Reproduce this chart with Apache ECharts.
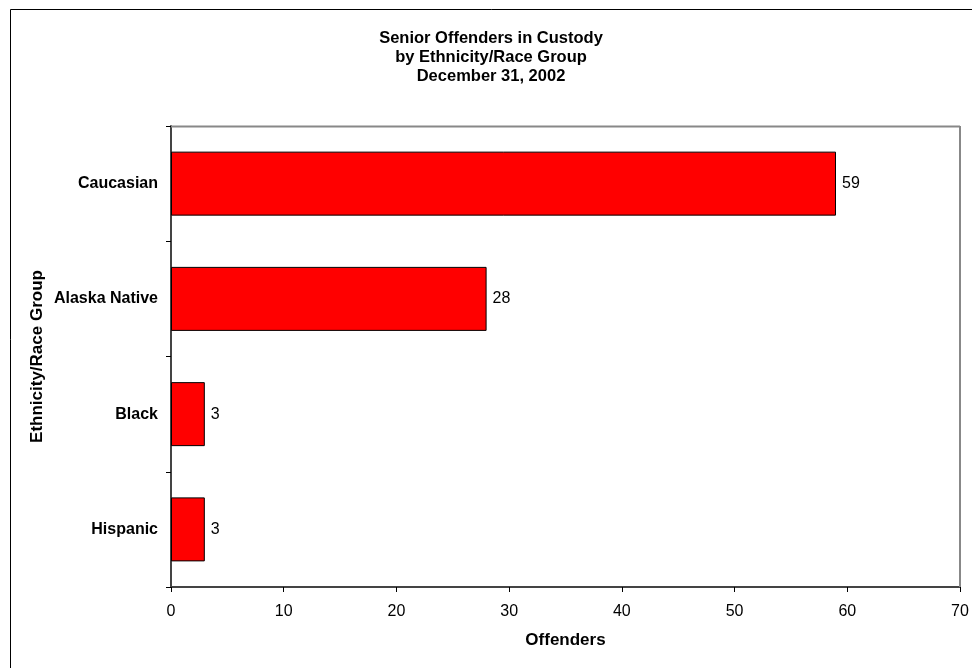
<!DOCTYPE html>
<html><head><meta charset="utf-8">
<script src="https://cdn.jsdelivr.net/npm/echarts@6/dist/echarts.min.js"></script>
<style>html,body{margin:0;padding:0;background:#fff}#c{width:972px;height:668px}</style>
</head><body><div id="c"></div>
<script>
const categories = ['Hispanic', 'Black', 'Alaska Native', 'Caucasian'];
const offenders = [3, 3, 28, 59];
const titleLines = ['Senior Offenders in Custody', 'by Ethnicity/Race Group', 'December 31, 2002'];
const xTicks = { min: 0, max: 70, interval: 10 };

const chart = echarts.init(document.getElementById('c'), null, { renderer: 'canvas' });
const font = 'Arial, "Liberation Sans", sans-serif';
chart.setOption({
  animation: false,
  backgroundColor: '#fff',
  title: {
    text: titleLines.join('\n'),
    left: 486, top: 24, textAlign: 'center',
    textStyle: { fontFamily: font, fontWeight: 'bold', fontSize: 16.5, lineHeight: 19, color: '#000' }
  },
  graphic: [
    { type: 'rect', shape: { x: 10.5, y: 9.5, width: 980, height: 680 }, style: { fill: null, stroke: '#000', lineWidth: 1 }, silent: true },
    { type: 'line', shape: { x1: 171, y1: 126.5, x2: 960, y2: 126.5 }, style: { stroke: '#888', lineWidth: 2 }, z: 1 },
    { type: 'line', shape: { x1: 960, y1: 126, x2: 960, y2: 587 }, style: { stroke: '#888', lineWidth: 2 }, z: 1 }
  ],
  grid: { left: 171, top: 126, width: 789, height: 461, containLabel: false },
  xAxis: {
    type: 'value', min: xTicks.min, max: xTicks.max, interval: xTicks.interval,
    name: 'Offenders', nameLocation: 'middle', nameGap: 45,
    nameTextStyle: { fontFamily: font, fontWeight: 'bold', fontSize: 17, color: '#000' },
    axisLine: { show: true, lineStyle: { color: '#444', width: 2 } },
    axisTick: { show: true, length: 5, lineStyle: { color: '#000', width: 1 } },
    axisLabel: { fontFamily: font, fontSize: 16, color: '#000', margin: 17 },
    splitLine: { show: false }
  },
  yAxis: {
    type: 'category', data: categories,
    name: 'Ethnicity/Race Group', nameLocation: 'middle', nameGap: 125, nameRotate: 90,
    nameMoveOverlap: false,
    nameTextStyle: { fontFamily: font, fontWeight: 'bold', fontSize: 17, color: '#000' },
    axisLine: { show: true, lineStyle: { color: '#444', width: 2 } },
    axisTick: { show: true, length: 5, inside: false, alignWithLabel: false, lineStyle: { color: '#000', width: 1 } },
    axisLabel: { fontFamily: font, fontSize: 16, fontWeight: 'bold', color: '#000', margin: 13 }
  },
  series: [{
    type: 'bar', data: offenders, barWidth: 64,
    itemStyle: { color: '#ff0000', borderColor: '#000', borderWidth: 1 },
    label: { show: true, position: 'right', distance: 6, fontFamily: font, fontSize: 16, color: '#000' }
  }]
});
</script></body></html>
